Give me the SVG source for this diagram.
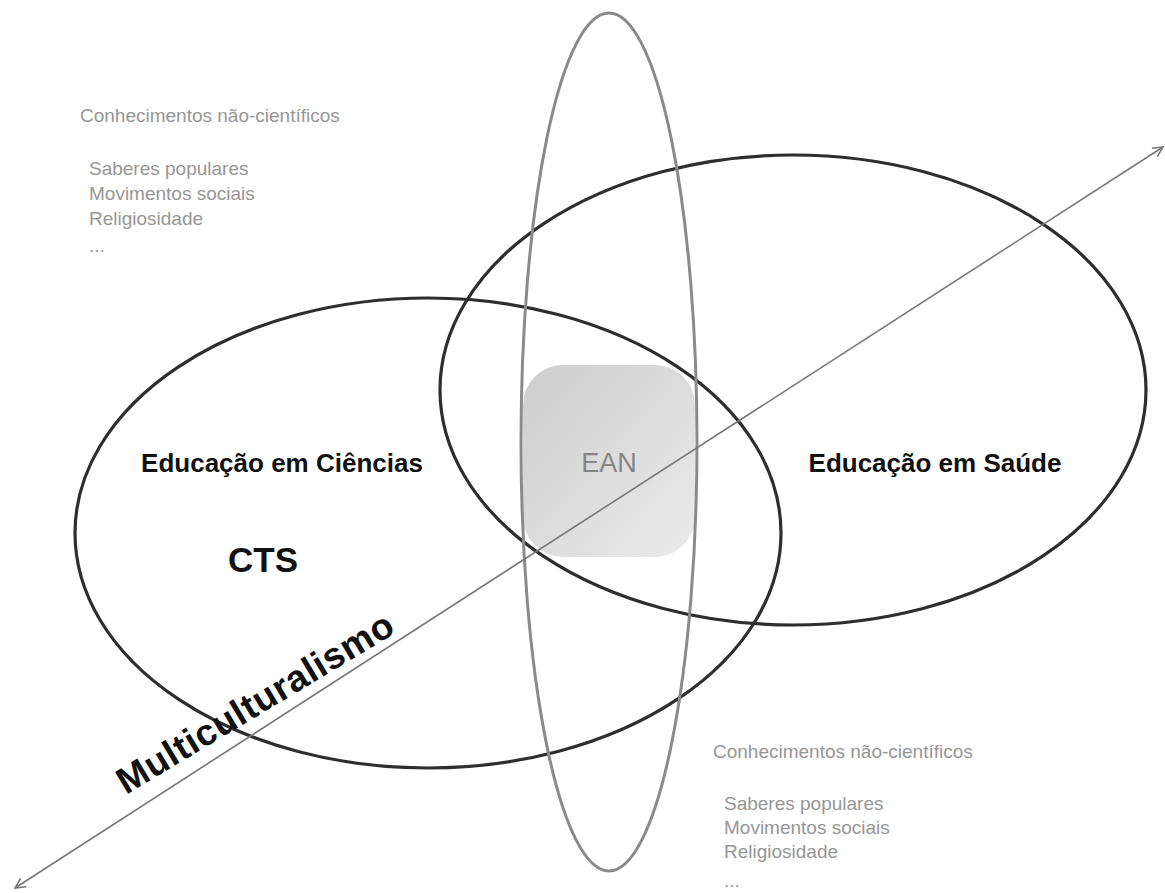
<svg xmlns="http://www.w3.org/2000/svg" width="1165" height="893" viewBox="0 0 1165 893">
  <style>
    .ring { fill: none; stroke: #2e2e2e; stroke-width: 3.2; }
    .axis-ring { fill: none; stroke: #8a8a8a; stroke-width: 3; }
    .label { font-family: "Liberation Sans", Arial, sans-serif; font-weight: bold; fill: #111111; }
    .note { font-family: "Liberation Sans", Arial, sans-serif; font-size: 19px; fill: #969696; }
    .axis { stroke: #777777; stroke-width: 1.6; fill: none; }
  </style>
  <defs>
    <linearGradient id="eanFill" x1="0" y1="0" x2="1" y2="1">
      <stop offset="0" stop-color="#cdcdcd"/>
      <stop offset="1" stop-color="#ebebeb"/>
    </linearGradient>
    <marker id="openHead" viewBox="0 0 12 12" refX="11" refY="6" markerWidth="12" markerHeight="12" markerUnits="userSpaceOnUse" orient="auto-start-reverse">
      <path d="M1,1 L11,6 L1,11" fill="none" stroke="#777777" stroke-width="1.6"/>
    </marker>
  </defs>

  <rect width="1165" height="893" fill="#ffffff"/>

  <!-- central shared area -->
  <g id="ean">
    <rect x="523" y="365" width="172" height="192" rx="40" ry="40" fill="url(#eanFill)"/>
    <text x="609" y="472" text-anchor="middle" font-family="Liberation Sans, Arial, sans-serif" font-size="27" fill="#858585">EAN</text>
  </g>

  <!-- science education field -->
  <g id="educacao-ciencias">
    <ellipse class="ring" cx="428" cy="533" rx="353" ry="235"/>
    <text class="label" x="282" y="472" font-size="26" text-anchor="middle">Educação em Ciências</text>
    <text class="label" x="263" y="572" font-size="35" text-anchor="middle">CTS</text>
  </g>

  <!-- health education field -->
  <g id="educacao-saude">
    <ellipse class="ring" cx="793" cy="390" rx="353" ry="235"/>
    <text class="label" x="935" y="472" font-size="26" text-anchor="middle">Educação em Saúde</text>
  </g>

  <!-- vertical band -->
  <g id="faixa-vertical">
    <ellipse class="axis-ring" cx="609" cy="442" rx="88" ry="429"/>
  </g>

  <!-- non-scientific knowledge notes -->
  <g id="conhecimentos-topo">
    <text class="note" x="80" y="122">Conhecimentos não-científicos</text>
    <text class="note" x="89" y="175">Saberes populares</text>
    <text class="note" x="89" y="200">Movimentos sociais</text>
    <text class="note" x="89" y="225">Religiosidade</text>
    <text class="note" x="89" y="252">...</text>
  </g>
  <g id="conhecimentos-base">
    <text class="note" x="713" y="758">Conhecimentos não-científicos</text>
    <text class="note" x="724" y="810">Saberes populares</text>
    <text class="note" x="724" y="834">Movimentos sociais</text>
    <text class="note" x="724" y="858">Religiosidade</text>
    <text class="note" x="724" y="887">...</text>
  </g>

  <!-- multiculturalism axis -->
  <g id="conectores">
    <line class="axis" x1="15" y1="888" x2="1163" y2="147" marker-start="url(#openHead)" marker-end="url(#openHead)"/>
  </g>
  <g id="multiculturalismo">
    <text class="label" font-size="37" transform="translate(126 795) rotate(-31)" textLength="316" lengthAdjust="spacing">Multiculturalismo</text>
  </g>
</svg>
